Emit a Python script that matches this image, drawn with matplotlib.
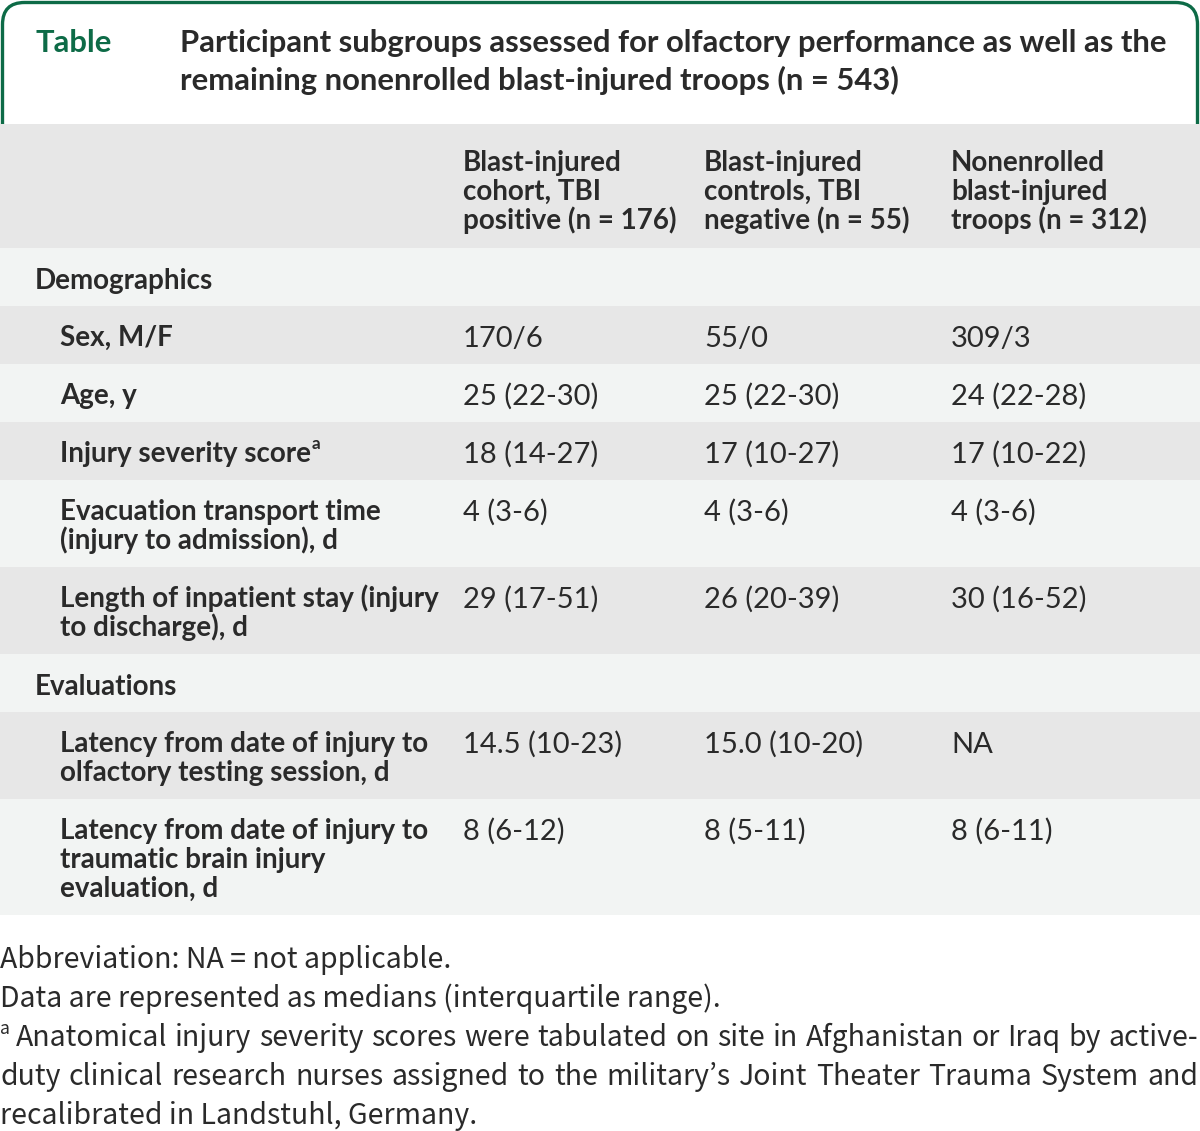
import matplotlib
matplotlib.use("Agg")
import matplotlib.pyplot as plt
from matplotlib.patches import Rectangle, FancyBboxPatch

# ---------------- data ----------------
title_label = "Table"
title_lines = ["Participant subgroups assessed for olfactory performance as well as the",
               "remaining nonenrolled blast-injured troops (n = 543)"]
col_headers = [["Blast-injured", "cohort, TBI", "positive (n = 176)"],
               ["Blast-injured", "controls, TBI", "negative (n = 55)"],
               ["Nonenrolled", "blast-injured", "troops (n = 312)"]]
sections = ["Demographics", "Evaluations"]
row_labels = [["Sex, M/F"],
              ["Age, y"],
              ["Injury severity score"],
              ["Evacuation transport time", "(injury to admission), d"],
              ["Length of inpatient stay (injury", "to discharge), d"],
              ["Latency from date of injury to", "olfactory testing session, d"],
              ["Latency from date of injury to", "traumatic brain injury", "evaluation, d"]]
row_section = [0, 0, 0, 0, 0, 1, 1]
row_superscript = ["", "", "a", "", "", "", ""]
col1_values = ["170/6", "25 (22-30)", "18 (14-27)", "4 (3-6)", "29 (17-51)", "14.5 (10-23)", "8 (6-12)"]
col2_values = ["55/0", "25 (22-30)", "17 (10-27)", "4 (3-6)", "26 (20-39)", "15.0 (10-20)", "8 (5-11)"]
col3_values = ["309/3", "24 (22-28)", "17 (10-22)", "4 (3-6)", "30 (16-52)", "NA", "8 (6-11)"]
footnotes = ["Abbreviation: NA = not applicable.",
             "Data are represented as medians (interquartile range).",
             "Anatomical injury severity scores were tabulated on site in Afghanistan or Iraq by active-",
             "duty clinical research nurses assigned to the military\u2019s Joint Theater Trauma System and",
             "recalibrated in Landstuhl, Germany."]
footnote_justify = [False, False, True, True, False]

# ---------------- style ----------------
W, H = 1200, 1131
GREEN = "#0d6b47"
TEXT = "#2a2a2a"
GRAY = "#e7e7e7"
LIGHT = "#f2f4f3"
BODY_FONT = "Lato"
NOTE_FONT = ["Noto Sans CJK JP", "DejaVu Sans"]

fig = plt.figure(figsize=(W / 100, H / 100), dpi=100)
ax = fig.add_axes([0, 0, 1, 1])
ax.set_xlim(0, W)
ax.set_ylim(H, 0)
ax.axis("off")
renderer = fig.canvas.get_renderer()
PX = 100 / 72.0


def text_width(t):
    return t.get_window_extent(renderer=renderer).width


def fit(x, y, s, target, fs=20, **kw):
    t = ax.text(x, y, s, fontsize=fs, **kw)
    w = text_width(t)
    t.set_fontsize(fs * target / w)
    return t


def base(yc, fs):
    return yc + 0.36 * fs * PX


# header frame
frame = FancyBboxPatch((2.5, 2.5), W - 5, 200, boxstyle="round,pad=0,rounding_size=22",
                       fc="white", ec=GREEN, lw=2.4, zorder=1)
ax.add_patch(frame)

# title
t = fit(180, 0, title_lines[0], 985, fs=20, family=BODY_FONT, weight="bold", color=TEXT, va="baseline")
fs_title = t.get_fontsize()
t.set_y(base(41, fs_title))
ax.text(180, base(79, fs_title), title_lines[1], fontsize=fs_title, family=BODY_FONT,
        weight="bold", color=TEXT, va="baseline")
ax.text(35, base(41, fs_title), title_label, fontsize=fs_title, family=BODY_FONT,
        weight="bold", color=GREEN, va="baseline")

# body font sizes from reference string widths
probe = fit(0, -100, row_labels[3][0], 321, family=BODY_FONT, weight="bold")
FS = probe.get_fontsize()
probe.remove()
probe = fit(0, -100, col1_values[5], 159, family=BODY_FONT)
FSV = probe.get_fontsize()
probe.remove()

LINE = 29
col_x = [463, 704, 951]
table_top = 124


def row_height(n):
    return 29 + 29 * n


# header row
y = table_top
hh = 124
ax.add_patch(Rectangle((0, y), W, hh, fc=GRAY, ec="none", zorder=2))
for ci, lines in enumerate(col_headers):
    for li, s in enumerate(lines):
        ax.text(col_x[ci], base(y + 37 + LINE * li, FS), s, fontsize=FS, family=BODY_FONT,
                weight="bold", color=TEXT, va="baseline", zorder=3)
y += hh

values = [col1_values, col2_values, col3_values]
k = 1
current = -1
for ri, lines in enumerate(row_labels):
    if row_section[ri] != current:
        current = row_section[ri]
        h = row_height(1)
        ax.add_patch(Rectangle((0, y), W, h, fc=GRAY if k % 2 == 0 else LIGHT, ec="none", zorder=2))
        ax.text(35, base(y + 31, FS), sections[current], fontsize=FS, family=BODY_FONT,
                weight="bold", color=TEXT, va="baseline", zorder=3)
        y += h
        k += 1
    h = row_height(len(lines))
    ax.add_patch(Rectangle((0, y), W, h, fc=GRAY if k % 2 == 0 else LIGHT, ec="none", zorder=2))
    for li, s in enumerate(lines):
        t = ax.text(60, base(y + 30 + LINE * li, FS), s, fontsize=FS, family=BODY_FONT,
                    weight="bold", color=TEXT, va="baseline", zorder=3)
        if row_superscript[ri] and li == len(lines) - 1:
            w = text_width(t)
            ax.text(60 + w + 1, base(y + 30, FS) - 0.45 * FS * PX, row_superscript[ri],
                    fontsize=FS * 0.62, family=BODY_FONT, weight="bold", color=TEXT,
                    va="baseline", zorder=3)
    for ci in range(3):
        ax.text(col_x[ci], base(y + 30, FSV), values[ci][ri], fontsize=FSV, family=BODY_FONT,
                color=TEXT, va="baseline", zorder=3)
    y += h
    k += 1

# footnotes
probe = fit(0, -100, footnotes[1], 719, family=NOTE_FONT)
FN = probe.get_fontsize()
probe.remove()
note_y = [958, 997, 1036, 1075, 1114]
for i, s in enumerate(footnotes):
    yb = base(note_y[i], FN)
    x0 = 0
    if i == 2:
        ax.text(0, yb - 0.42 * FN * PX, "a", fontsize=FN * 0.62, family=NOTE_FONT, color=TEXT,
                va="baseline")
        x0 = 16
    if footnote_justify[i]:
        words = s.split(" ")
        ts = [ax.text(0, yb, wd, fontsize=FN, family=NOTE_FONT, color=TEXT, va="baseline")
              for wd in words]
        ws = [text_width(tt) for tt in ts]
        gap = (1198 - x0 - sum(ws)) / (len(words) - 1)
        x = x0
        for tt, w in zip(ts, ws):
            tt.set_x(x)
            x += w + gap
    else:
        ax.text(x0, yb, s, fontsize=FN, family=NOTE_FONT, color=TEXT, va="baseline")

fig.savefig("out.png", dpi=100, facecolor="white")
